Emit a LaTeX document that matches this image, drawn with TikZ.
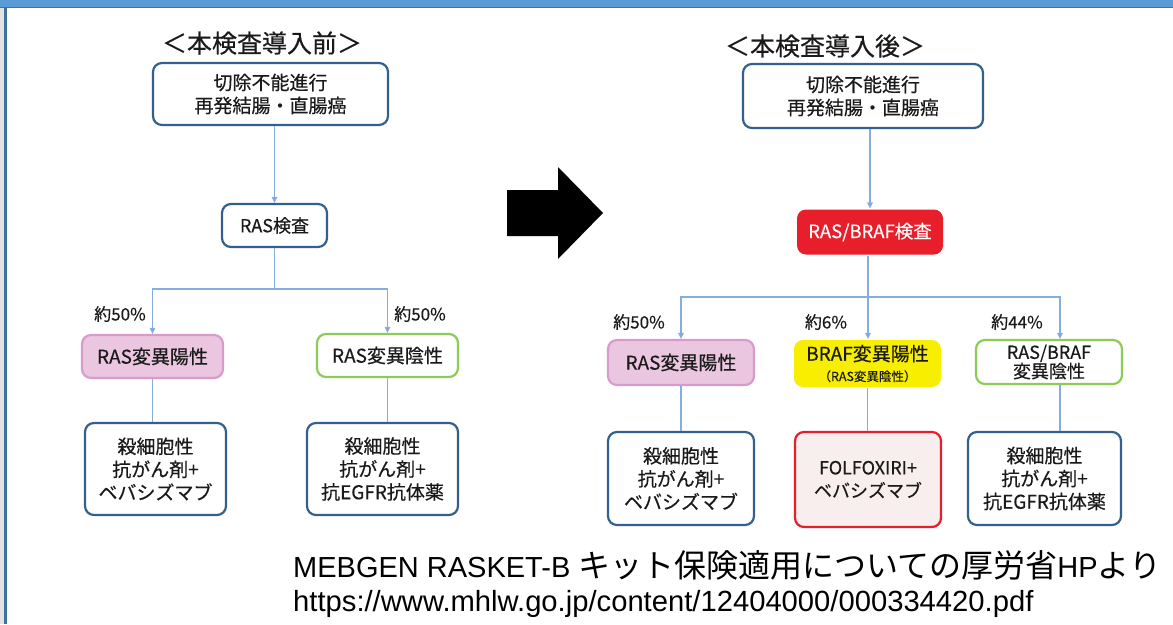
\documentclass[tikz,border=0pt]{standalone}
\usepackage{fontspec}
\setmainfont{Noto Sans CJK JP}[FakeBold=0.4]
\newfontfamily\arialf{Liberation Sans}
\newfontfamily\jpf{Noto Sans CJK JP}
\usetikzlibrary{arrows.meta}
\definecolor{topbar}{HTML}{5B9BD5}
\definecolor{framedark}{HTML}{41719C}
\definecolor{boxblue}{HTML}{34608E}
\definecolor{lineblue}{HTML}{86AEDD}
\definecolor{arrblue}{HTML}{4F81BD}
\definecolor{pinkfill}{HTML}{EBC6E0}
\definecolor{pinkdraw}{HTML}{D99BCB}
\definecolor{greendraw}{HTML}{8CCB55}
\definecolor{redbox}{HTML}{E81E2A}
\definecolor{yellowbox}{HTML}{F7EE00}
\definecolor{pinkdot}{HTML}{F8EEEE}
\definecolor{txt}{HTML}{1A1A1A}
\newcommand\myfs[2]{\fontsize{#1}{#2}\selectfont}
\begin{document}
\begin{tikzpicture}[x=1pt,y=-1pt,
  box/.style={draw=boxblue, line width=2.2pt, rounded corners=9pt, fill=white,
    inner sep=0pt, align=center, text=txt},
  conn/.style={draw=lineblue, line width=1.4pt},
  arr/.style={conn, -{Triangle[length=6pt,width=5.5pt,fill=arrblue]}},
  lbl/.style={inner sep=0pt, text=txt, font=\myfs{17}{20}},
  title/.style={inner sep=0pt, text=txt, font=\myfs{25}{28}},
  tx/.style={font=\myfs{19}{23}}
]
\useasboundingbox (0,0) rectangle (1173,624);
\fill[white] (0,0) rectangle (1173,624);
\fill[gray!22] (0,0) rectangle (4,624);
\fill[framedark] (4,0) rectangle (7.2,624);
\fill[topbar] (0,0) rectangle (1173,6.7);
\fill[framedark] (0,6.7) rectangle (1173,8.3);

% ---------- left: before ----------
\node[title] (titleL) at (262,43) {＜本検査導入前＞};
\node[box, tx, minimum width=235pt, minimum height=62pt] (boxL1) at (270.5,94) {切除不能進行\\再発結腸・直腸癌};
\node[box, minimum width=105pt, minimum height=43pt, font=\myfs{18}{22}] (rasL) at (274.5,225.5) {RAS検査};
\node[box, draw=pinkdraw, fill=pinkfill, minimum width=141pt, minimum height=43pt, font=\myfs{19}{22}] (posL) at (152.5,356.5) {RAS変異陽性};
\node[box, draw=greendraw, minimum width=141pt, minimum height=43pt, font=\myfs{19}{22}] (negL) at (387.5,355.5) {RAS変異陰性};
\node[box, tx, minimum width=141pt, minimum height=92pt] (trL1) at (155.5,469) {殺細胞性\\抗がん剤+\\ベバシズマブ};
\node[box, tx, minimum width=151pt, minimum height=92pt] (trL2) at (382.5,469) {殺細胞性\\抗がん剤+\\抗EGFR抗体薬};
\node[lbl] (pL1) at (120,314) {約50\%};
\node[lbl] (pL2) at (420,314) {約50\%};
\coordinate (jL) at (274.5,289);

\draw[arr] (boxL1.south -| rasL.north) -- (rasL.north);
\draw[conn] (rasL.south) -- (jL);
\draw[arr] (jL) -| (posL.north);
\draw[arr] (jL) -| (negL.north);
\draw[conn] (posL.south) -- (posL.south |- trL1.north);
\draw[conn] (negL.south) -- (negL.south |- trL2.north);

% ---------- big arrow ----------
\fill[black] (507,190) -- (558,190) -- (558,167) -- (603,213) -- (558,259) -- (558,236) -- (507,236) -- cycle;

% ---------- right: after ----------
\node[title] (titleR) at (825,46) {＜本検査導入後＞};
\node[box, tx, minimum width=240pt, minimum height=64pt] (boxR1) at (863,96) {切除不能進行\\再発結腸・直腸癌};
\node[box, draw=none, fill=redbox, text=white, minimum width=146pt, minimum height=45pt, font=\myfs{18.5}{22}] (rasR) at (870,232) {RAS/BRAF検査};
\node[box, draw=pinkdraw, fill=pinkfill, minimum width=146pt, minimum height=45pt, font=\myfs{19}{22}] (posR) at (681,362.5) {RAS変異陽性};
\node[box, draw=none, fill=yellowbox, minimum width=147pt, minimum height=47pt] (braf) at (867.5,363.5) {{\myfs{19}{21}BRAF変異陽性}\\[7pt]{\myfs{12.5}{14}（RAS変異陰性）}};
\node[box, draw=greendraw, minimum width=146pt, minimum height=44pt, font=\myfs{18}{19}] (negR) at (1049,362) {RAS/BRAF\\変異陰性};
\node[box, tx, minimum width=146pt, minimum height=93pt] (trR1) at (681,478.5) {殺細胞性\\抗がん剤+\\ベバシズマブ};
\node[box, draw=redbox, fill=pinkdot, minimum width=146pt, minimum height=95pt, font=\myfs{18}{23}] (trR2) at (868,479.5) {FOLFOXIRI+\\ベバシズマブ};
\node[box, tx, minimum width=153pt, minimum height=93pt] (trR3) at (1044.5,478.5) {殺細胞性\\抗がん剤+\\抗EGFR抗体薬};
\node[lbl] (pR1) at (639,322) {約50\%};
\node[lbl] (pR2) at (826,322) {約6\%};
\node[lbl] (pR3) at (1017,322) {約44\%};
\coordinate (jR) at (868,297);
\coordinate (jR3) at (1060,297);

\draw[arr] (boxR1.south -| rasR.north) -- (rasR.north);
\draw[conn] (rasR.south -| jR) -- (jR);
\draw[arr] (jR) -| (posR.north);
\draw[arr] (jR |- rasR.south) -- (jR |- braf.north);
\draw[arr] (jR) -- (jR3) -- (jR3 |- negR.north);
\draw[conn] (posR.south) -- (posR.south |- trR1.north);
\draw[conn] (braf.south) -- (braf.south |- trR2.north);
\draw[conn] (jR3 |- negR.south) -- (jR3 |- trR3.north);

% ---------- source ----------
\node[anchor=base west, inner sep=0pt, text=black] (src1) at (293,577) {{\myfs{29}{32}\arialf MEBGEN RASKET-B }{\myfs{32}{32}\jpf キット保険適用についての厚労省}{\myfs{29}{32}\arialf HP}{\myfs{32}{32}\jpf より}};
\node[anchor=base west, inner sep=0pt, text=black, font=\myfs{29.2}{32}\arialf] (src2) at (293,611) {https://www.mhlw.go.jp/content/12404000/000334420.pdf};
\end{tikzpicture}
\end{document}
